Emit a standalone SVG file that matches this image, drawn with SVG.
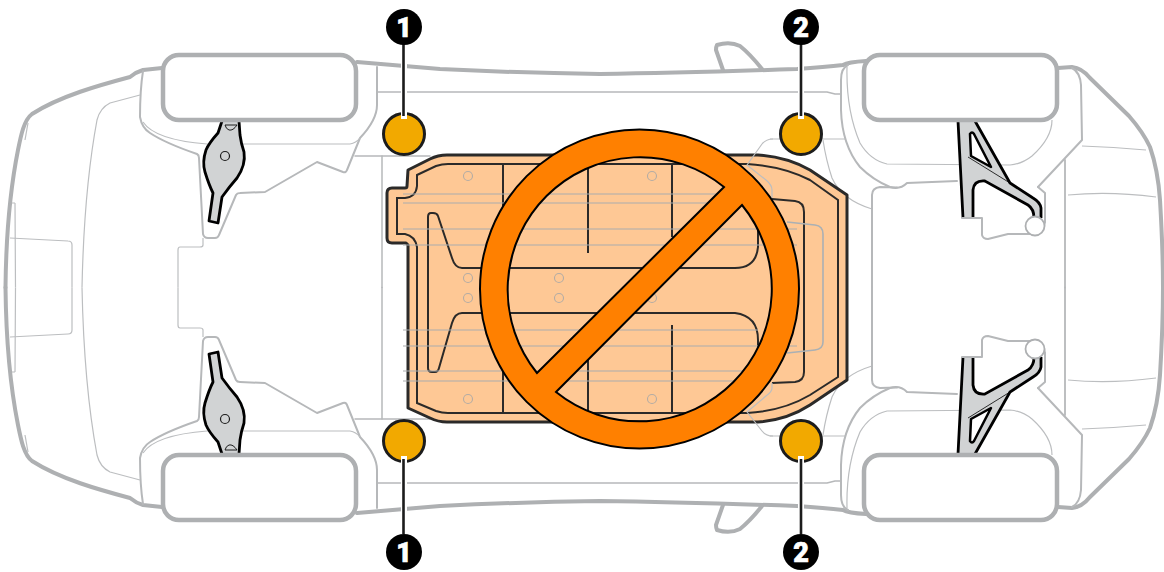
<svg xmlns="http://www.w3.org/2000/svg" width="1164" height="572" viewBox="0 0 1164 572">
<style>
.o{fill:none;stroke:#aeb0b2;stroke-width:4;stroke-linejoin:round;stroke-linecap:round}
.m{fill:none;stroke:#b6b8ba;stroke-width:2;stroke-linejoin:round;stroke-linecap:round}
.t{fill:none;stroke:#bcbec0;stroke-width:1.2;stroke-linejoin:round}
.w{fill:#fff;stroke:#aeb0b2;stroke-width:4.5}
.a{fill:#d1d3d4;stroke:#000;stroke-width:2.8;stroke-linejoin:round}
.pk{fill:none;stroke:#2b2a29;stroke-width:2}
.g{stroke:#aaabad;stroke-width:1.1;fill:none}
.gc{fill:none;stroke:#b4aca4;stroke-width:1.1}
.gs{fill:none;stroke:#aab0b4;stroke-width:1.6;stroke-linejoin:round}
.spot{fill:#f2a900;stroke:#1c1c1c;stroke-width:3}
.halo{stroke:#fff;stroke-width:6}
.lead{stroke:#1c1c1c;stroke-width:2.6}
.num{font-family:Roboto,"Liberation Sans",sans-serif;font-weight:900;font-size:27px;fill:#fff;stroke:#fff;stroke-width:0.7;text-anchor:middle}
</style>
<defs>
<g id="half">
<path class="o" d="M162,68 L143,70 Q136,72 130,77 C100,85 60,96 32,114 C24,120 21,135 18,150 C10,190 6,240 5.500,287.500"/>
<path class="o" d="M357,62 L440,69 Q520,73 600,74 Q680,73 797,69 Q825,67 843,65 Q848,62 866,61"/>
<path class="o" d="M1058,68 L1072,67 Q1082,68 1090,78 L1129,116 Q1143,132 1150,147 Q1158,170 1160,200 Q1163,250 1163,287.500"/>
<path class="o" d="M717,45 Q716,47 716,50 L723,70 M717,45 Q730,41 740,46 Q750,54 762,69"/>
<path class="m" d="M143,71 Q140,90 140,117 Q142,128 150,133 Q165,143 197,154 Q199,155 199,158 L203,234 Q204,238 208,238 L215,238 Q218,238 219,235 L236,195 Q237,193 240,193 L265,192 L317,162 L343,172 Q346,173 347,170 L360,138 Q377,120 377,105 L377,67"/>
<path class="t" d="M143,122 Q155,140 207,144 L350,144 Q356,143 360,138"/>
<path class="t" d="M140,95 L110,103 Q100,108 97,120 Q84,190 82,287.500"/>
<path class="t" d="M28,123 L25,140"/>
<path class="t" d="M15,203 L12,203 M15,203 L15.500,287.500"/>
<path class="t" d="M10,238 L68,241 Q72,241 72,245 L72,287.500"/>
<path class="t" d="M203,238 L203,245 Q203,247 200,247 L180,247 Q178,247 178,250 L178,287.500"/>
<path class="m" d="M377,92 L827,92 L835,94 L841,94" style="stroke-width:1.500"/>
<path class="m" d="M355,156 L430,156" style="stroke-width:1.500"/>
<path class="m" d="M382,156 L382,287.500" style="stroke-width:1.500"/>
<path class="t" d="M770,139 L845,139"/>
<path class="t" d="M823,140 Q826,160 832,178 Q842,200 872,209"/>
<path class="m" d="M848,65 Q841,68 841,80 L841,110 Q842,145 860,167 Q873,180 890,187 Q900,190 907,183 L957,181"/>
<path class="m" d="M1038,187 L1082,140 L1081,85 Q1080,72 1072,68"/>
<path class="m" d="M1038,187 L1045,193 L1045,222"/>
<path class="m" d="M872,287.500 L872,195 Q872,188 880,187 L897,187.500"/>
<path class="t" d="M847,67 Q846,110 860,143 Q870,160 887,164 L1010,165 Q1022,164 1032,156 Q1052,138 1052,120"/>
<path class="m" d="M1065,160 L1065,287.500" style="stroke-width:1.800"/>
<path class="t" d="M1082,146 Q1113,147 1146,150"/>
<path class="t" d="M1068,195 Q1110,191 1156,197"/>
<path class="a" d="M222,121 L218,133 Q209,143 206,150 Q202,162 205,172 Q209,185 213,193 L209,221 L218,223 L222,197 Q230,186 237,178 Q246,165 244,152 Q241,143 240,135 L239,121"/>
<circle cx="225" cy="156" r="4.500" fill="none" stroke="#1c1c1c" stroke-width="1.200"/>
<path d="M225,125 L237,125 Q233,131 229,130 Q226,129 225,125 Z" fill="none" stroke="#1c1c1c" stroke-width="1"/>
<path d="M957,121 L963,218 L973,218 L973,190 Q974,180 985,181 L1028,205 Q1034,209 1034,216 L1042,218 L1041,208 Q1040,202 1033,198 L1010,183 L975,121 Z" fill="#d1d3d4"/>
<path d="M958,121 L963,218 M973,218 L973,190 Q974,180 985,181 L1028,205 Q1034,209 1034,218 M1041,218 L1041,208 Q1040,202 1033,198 L1010,183 L975,121" fill="none" stroke="#000" stroke-width="2.800"/>
<path d="M970,134 Q972,131 974,134 L991,167 L971,156 Z" fill="#fff" stroke="#000" stroke-width="2.500" stroke-linejoin="round"/>
<path d="M968,157 L1010,183" stroke="#000" stroke-width="0.800" fill="none"/>
<path class="m" d="M962,218 L982,218 L982,235 Q983,239 988,239 L1008,234 L1037,234 Q1044,232 1045,222"/>
<circle cx="1035" cy="226" r="9.500" fill="#fff" stroke="#aeb0b2" stroke-width="1.800"/>
<rect class="w" x="163" y="55" width="193" height="65" rx="16"/>
<rect class="w" x="864" y="55" width="193" height="65" rx="16"/>
</g>
</defs>
<rect width="1164" height="572" fill="#fff"/>
<g id="car-body">
<use href="#half"/>
<use href="#half" transform="translate(0,575) scale(1,-1)"/>
</g>
<g id="battery">
<path d="M408,170 L430,159 Q438,155 447,155 L758,155 Q787,157 810,170 L847,195 L847,380 L810,405 Q787,420 758,422 L447,422 Q438,422 430,418 L408,408 L408,245 L406,243 L392,243 Q387,243 387,238 L387,193 Q387,188 392,188 L405,188 Q407,188 407,186 Z" fill="#fec895" stroke="#2b2a29" stroke-width="3" stroke-linejoin="round"/>
<path class="pk" d="M397,198 L405,198 Q416,197 417,186 L417,175 L436,166 Q442,164 448,164 L747,164 Q783,166 810,180 L838,200 L838,377 L810,395 Q783,411 747,413 L448,413 Q442,413 436,411 L417,403 L417,247 Q415,236 405,234 L397,234 Z"/>
<path class="pk" d="M503,164 V208 M503,372 V413 M588,164 V253 M588,360 V413 M672,164 V237 M672,325 V413"/>
<path class="pk" d="M758,230 V247 Q756,268 735,268 L462,268 Q455,268 452,258 L438,216 Q437,213 433,213 L431,213 Q428,213 428,217 L428,368 Q428,372 432,372 L435,372 Q438,372 439,368 L452,323 Q455,313 462,313 L735,313 Q758,316 758,340 V357"/>
<path class="pk" d="M772,199 L795,201 Q804,202 804,212 L804,372 Q804,381 795,382 L772,383"/>
<path class="g" d="M403,194 H725 M403,203 H730 M403,229 H797 M403,245 H797 M403,330 H758 M403,346 H797 M403,371 H747 M403,381 H747"/>
<g class="gc">
<circle cx="468" cy="176" r="4.500"/><circle cx="652" cy="176" r="4.500"/>
<circle cx="468" cy="278" r="4.500"/><circle cx="559" cy="278" r="4.500"/>
<circle cx="468" cy="298" r="4.500"/><circle cx="559" cy="298" r="4.500"/><circle cx="652" cy="298" r="4.500"/>
<circle cx="468" cy="399" r="4.500"/><circle cx="652" cy="399" r="4.500"/>
</g>
<path class="gs" d="M787,222 L815,225 Q823,226 823,234 L823,342 Q823,349 815,350 L787,353"/>
<path class="t" d="M773,139 Q766,139 762,144 L747,165 L766,180 Q772,185 772,190 L772,198"/>
<path class="t" d="M773,436 Q766,436 762,431 L747,412 L766,396 Q772,392 772,388 L772,383"/>
</g>
<g id="spot-1a"><circle class="spot" cx="404" cy="134" r="20.500"/></g>
<g id="spot-1b"><circle class="spot" cx="404" cy="441" r="20.500"/></g>
<g id="spot-2a"><circle class="spot" cx="801" cy="134" r="20.500"/></g>
<g id="spot-2b"><circle class="spot" cx="801" cy="441" r="20.500"/></g>
<g id="no-symbol">
<path fill="#ff8000" fill-rule="evenodd" stroke="#000" stroke-width="2" stroke-linejoin="miter" d="M480,289 A159.500,159.500 0 1 1 799,289 A159.500,159.500 0 1 1 480,289 Z M724,187 A132.600,132.600 0 0 0 537,373 Z M742,205 L556,392 A132.600,132.600 0 0 0 742,205 Z"/>
</g>
<g id="connectors">
<path class="halo" d="M404,44 V119 M404,456 V534 M801,44 V119 M801,456 V534"/>
<path class="lead" d="M403.500,44 V116 M403.500,459 V534 M801,44 V116 M801,459 V534"/>
</g>
<g id="badge-1a"><circle cx="404" cy="27" r="18"/><text class="num" x="404" y="37">1</text></g>
<g id="badge-2a"><circle cx="801" cy="27" r="18"/><text class="num" x="801" y="37">2</text></g>
<g id="badge-1b"><circle cx="404" cy="552" r="18"/><text class="num" x="404" y="562">1</text></g>
<g id="badge-2b"><circle cx="801" cy="552" r="18"/><text class="num" x="801" y="562">2</text></g>
</svg>
